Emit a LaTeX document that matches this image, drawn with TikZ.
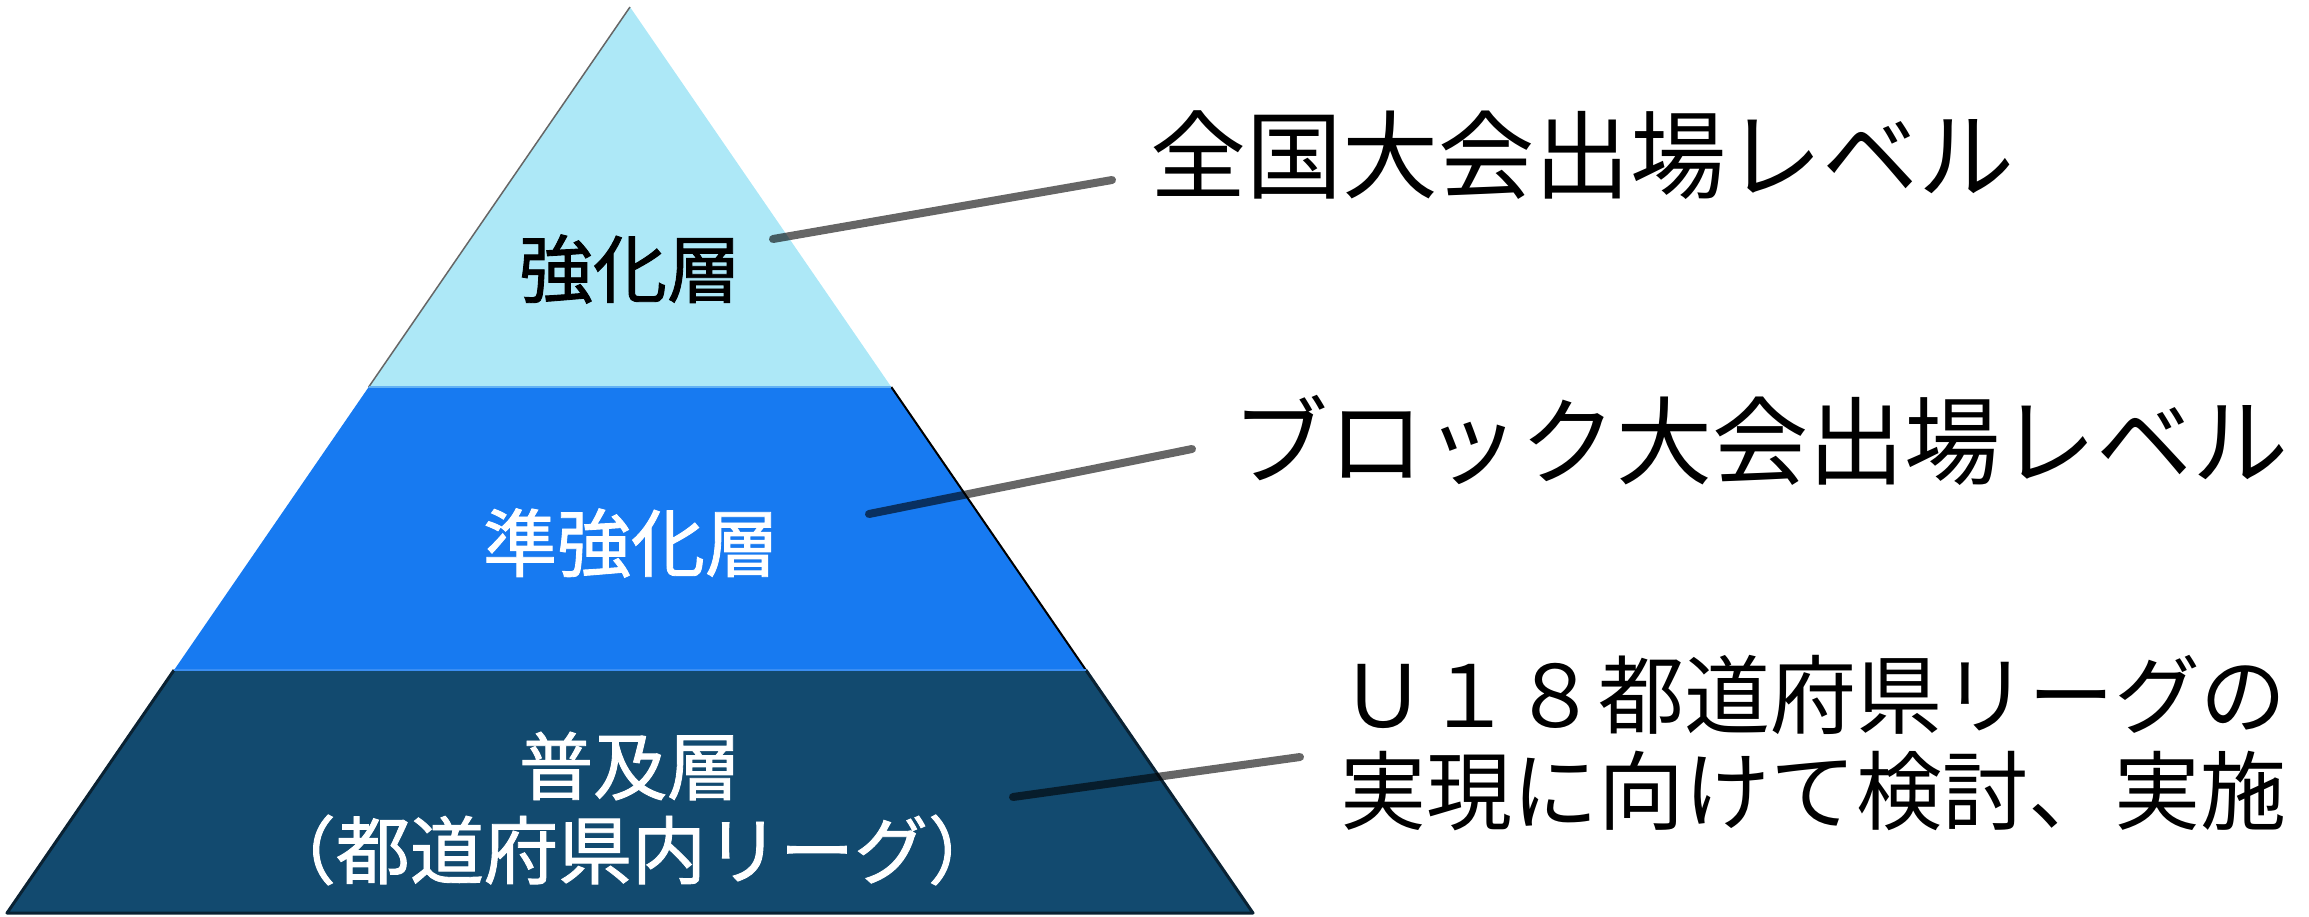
\documentclass[tikz,border=0pt]{standalone}
\usepackage{fontspec}
\setmainfont{Noto Sans CJK JP}
\newfontfamily\jp{Noto Sans CJK JP}
\newfontfamily\jpheavy[FakeBold=1.2]{Noto Sans CJK JP}
\definecolor{topc}{HTML}{ADE8F7}
\definecolor{midc}{HTML}{177AF1}
\definecolor{botc}{HTML}{124A6F}
\definecolor{botedge}{HTML}{0A2233}
\tikzset{
  layertext/.style={inner sep=0pt, align=center, font=\jpheavy\fontsize{74}{86}\selectfont},
  sidetext/.style={inner sep=0pt, anchor=west, align=left, text=black},
  leader/.style={line width=8pt, line cap=round, black, opacity=0.6},
}
\begin{document}
\begin{tikzpicture}[x=1pt,y=-1pt]
\useasboundingbox (0,0) rectangle (2309,916);
% pyramid layers
\coordinate (A) at (630,7);
\coordinate (L1) at (368.7,387);
\coordinate (R1) at (891.3,387);
\coordinate (L2) at (174.1,670);
\coordinate (R2) at (1085.9,670);
\coordinate (BL) at (7,913);
\coordinate (BR) at (1253,913);
\fill[topc] (A) -- (R1) -- (L1) -- cycle;
\fill[midc] (L1) -- (R1) -- (R2) -- (L2) -- cycle;
\fill[botc] (L2) -- (R2) -- (BR) -- (BL) -- cycle;
\draw[line width=1.5pt, gray!80!black] (A) -- (L1);
\draw[line width=2pt, black] (R1) -- (R2);
\draw[line width=3pt, botedge, line join=round] (L2) -- (BL) -- (BR) -- (R2);
\draw[line width=2pt, color=topc!50!midc] (L1) -- (R1);
\draw[line width=2pt, color=midc!85!white] (L2) -- (R2);
% layer labels
\node[layertext, text=black] (t1) at (630,269) {強化層};
\node[layertext, text=white] (t2) at (631,543) {準強化層};
\node[layertext, text=white] (t3a) at (630,766) {普及層};
\node[layertext, text=white] (t3b) at (632,850) {（都道府県内リーグ）};
% side labels
\node[sidetext, font=\jp\fontsize{96}{110}\selectfont] (s1) at (1150,155) {全国大会出場レベル};
\node[sidetext, font=\jp\fontsize{96}{110}\selectfont] (s2) at (1232,440) {ブロック大会出場レベル};
\node[sidetext, font=\jp\fontsize{86}{96}\selectfont] (s3) at (1340,743) {Ｕ１８都道府県リーグの\\実現に向けて検討、実施};
% leader lines
\coordinate (p1a) at (773,239);
\coordinate (p1b) at (1112,180);
\coordinate (p2a) at (869,514);
\coordinate (p2b) at (1192,449);
\coordinate (p3a) at (1013,797);
\coordinate (p3b) at (1300,757);
\draw[leader] (p1a) -- (p1b);
\draw[leader] (p2a) -- (p2b);
\draw[leader] (p3a) -- (p3b);
\end{tikzpicture}
\end{document}
